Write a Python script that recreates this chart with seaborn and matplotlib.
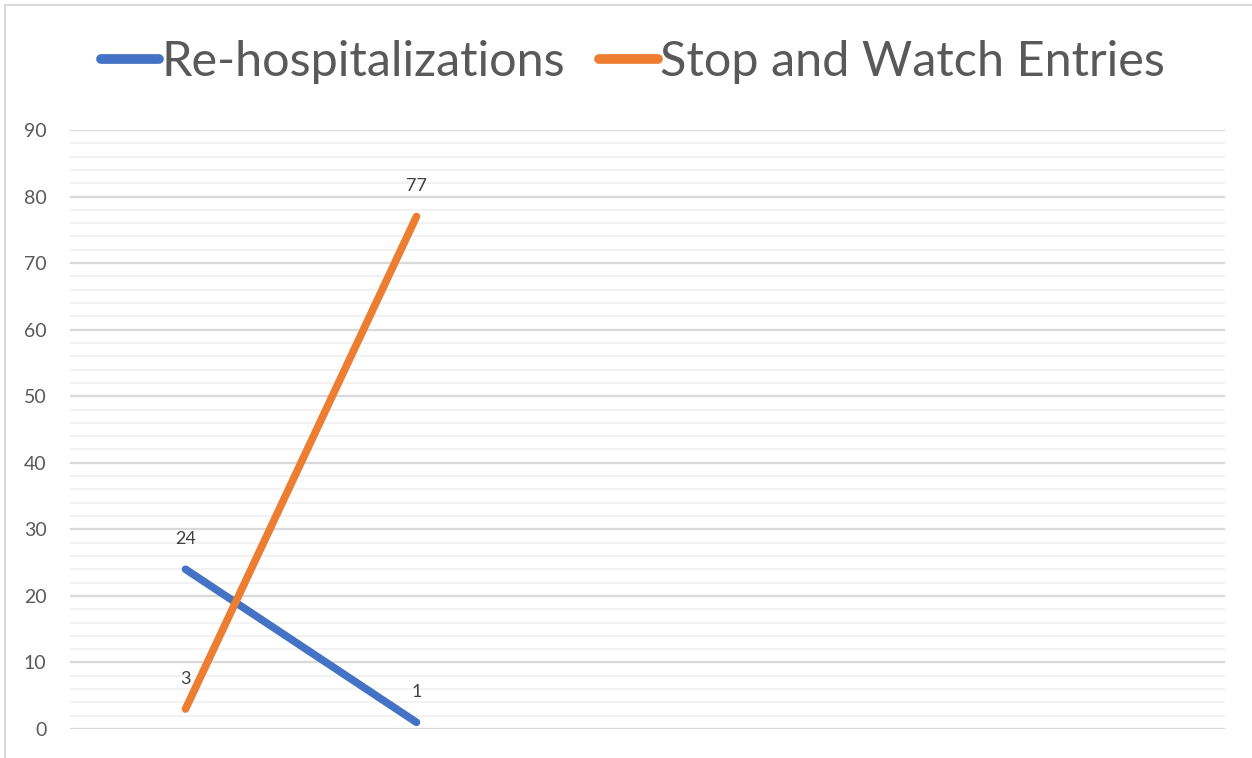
import pandas as pd
import matplotlib.pyplot as plt
import seaborn as sns
from matplotlib.patches import Rectangle

# Excel style chart: 5 category slots, only the first two have data
n_slots = 5
positions = [0, 1]
rehosp = [24, 1]
stop_watch = [3, 77]
series_names = ['Re-hospitalizations', 'Stop and Watch Entries']
colors = ['#4472C4', '#ED7D31']
y_ticks = [0, 10, 20, 30, 40, 50, 60, 70, 80, 90]

df = pd.DataFrame({
    'pos': positions + positions,
    'value': rehosp + stop_watch,
    'series': [series_names[0]] * len(positions) + [series_names[1]] * len(positions),
})

sns.set_style('white')
plt.rcParams['font.family'] = ['Lato', 'DejaVu Sans']

fig = plt.figure(figsize=(12.52, 7.58), dpi=100)
ax = fig.add_axes([70 / 1252, 1 - 729 / 758, 1155 / 1252, 599 / 758])

# chart area border (cropped on right / bottom)
fig.patches.append(Rectangle((5 / 1252, -0.1), 1.2, (758 - 5) / 758 + 0.1,
                             transform=fig.transFigure, fill=False,
                             edgecolor='#D9D9D9', linewidth=1.5, zorder=0))

# gridlines
for v in range(0, 91, 2):
    major = v % 10 == 0
    ax.axhline(v, color='#D9D9D9' if major else '#F2F2F2',
               linewidth=1.6 if major else 1.4, zorder=1)

sns.lineplot(data=df, x='pos', y='value', hue='series', palette=colors,
             linewidth=5.5, ax=ax, legend=False, zorder=3,
             solid_capstyle='round')

for name, vals in zip(series_names, [rehosp, stop_watch]):
    for p, v in zip(positions, vals):
        ax.annotate(str(v), (p, v), xytext=(0, 16), textcoords='offset points',
                    ha='center', va='bottom', fontsize=13, color='#404040')

ax.set_xlim(-0.5, n_slots - 0.5)
ax.set_ylim(0, 90)
ax.set_xticks([])
ax.set_yticks(y_ticks)
ax.tick_params(axis='y', length=0, pad=17, labelsize=14, labelcolor='#595959')
ax.set_xlabel('')
ax.set_ylabel('')
sns.despine(ax=ax, left=True, bottom=True, top=True, right=True)

handles = [plt.Line2D([], [], color=c, linewidth=7, solid_capstyle='round') for c in colors]
fig.legend(handles, series_names, loc='center', bbox_to_anchor=(633 / 1252, 1 - 62 / 758),
           ncol=2, frameon=False, fontsize=35, handlelength=1.2, handletextpad=0.05,
           columnspacing=0.7, labelcolor='#595959')

fig.savefig('out.png', dpi=100)
